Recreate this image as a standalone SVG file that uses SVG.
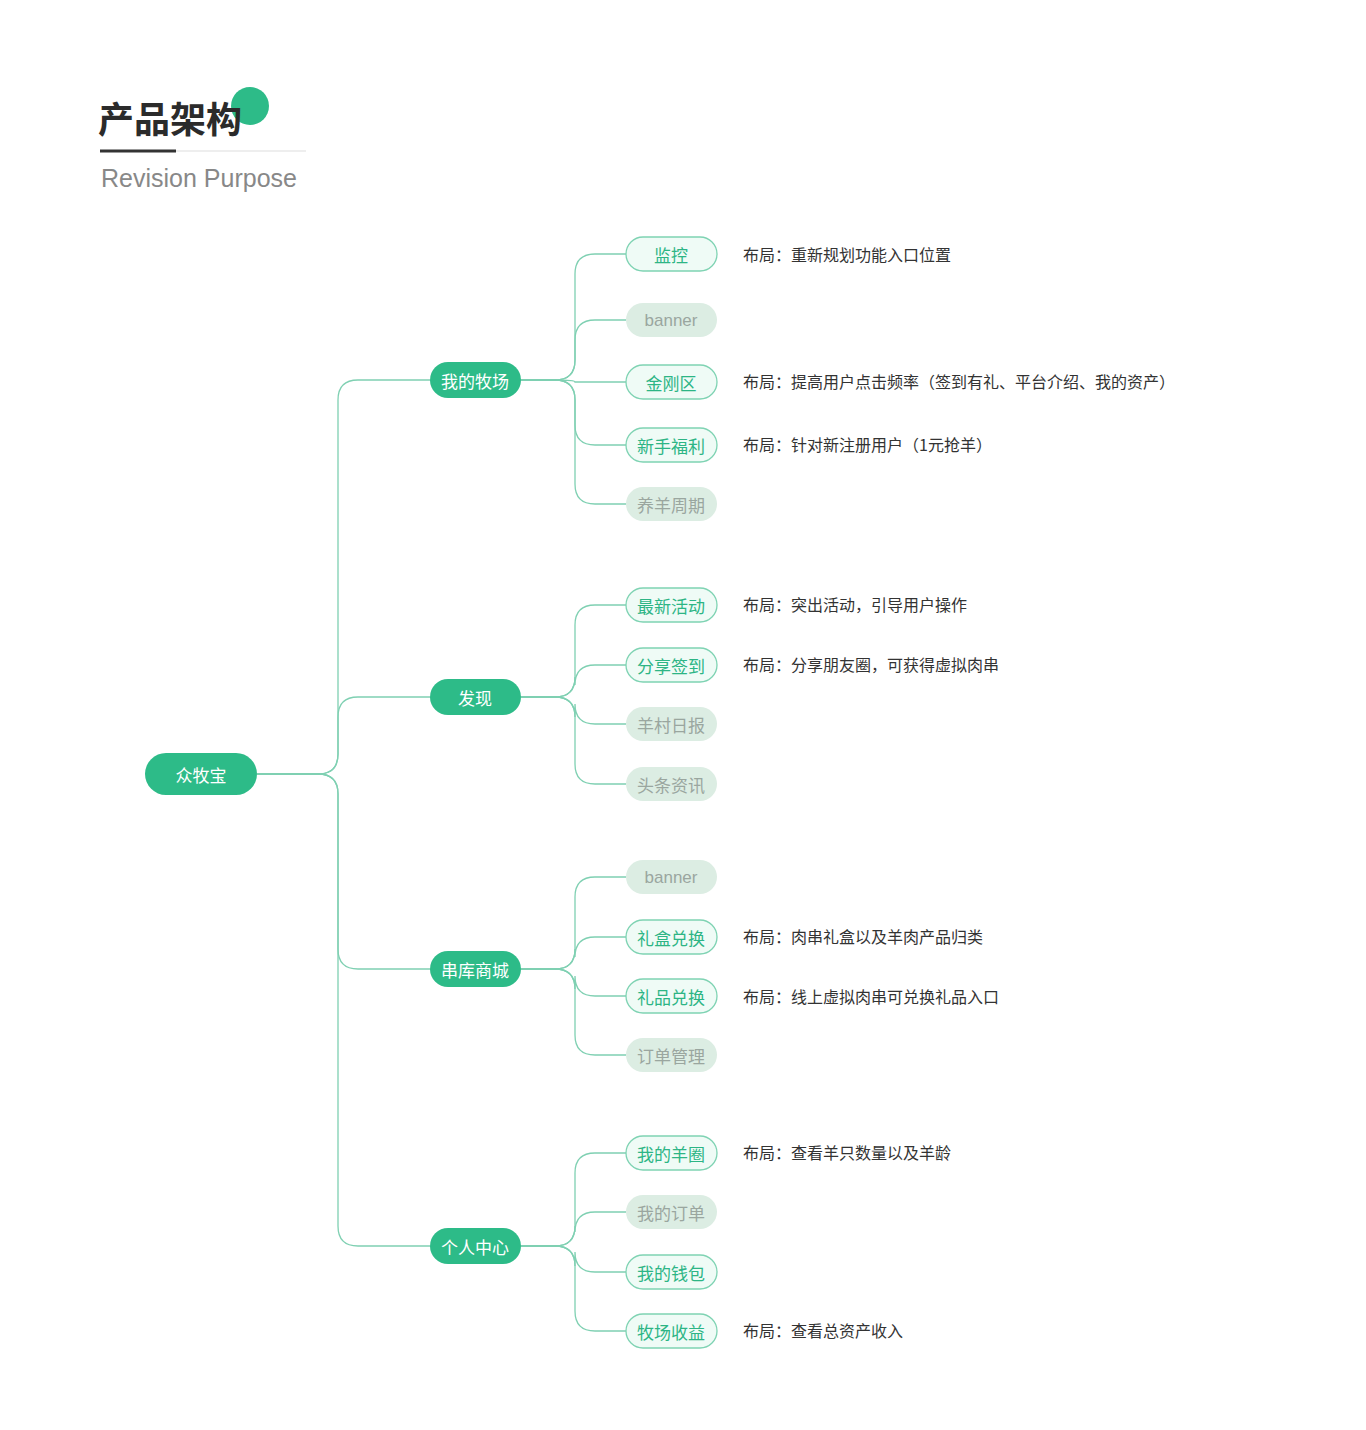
<svg xmlns="http://www.w3.org/2000/svg" width="1366" height="1430" viewBox="0 0 1366 1430">
<style>
.t{font-family:"Noto Sans CJK SC","Liberation Sans",sans-serif}
.c path{fill:none;stroke:#7fd0b2;stroke-width:1.3}
.p{fill:#2dbb88}
.pt{fill:#fff;font-size:17px;text-anchor:middle;dominant-baseline:central}
.a rect{fill:#effbf6;stroke:#7fd3b3;stroke-width:1.3}
.a text{fill:#2db585;font-size:17px;text-anchor:middle;dominant-baseline:central}
.i rect{fill:#dcede3}
.i text{fill:#9aa69f;font-size:17px;text-anchor:middle;dominant-baseline:central}
.n{fill:#333;font-size:16px;dominant-baseline:central}
</style>
<rect width="1366" height="1430" fill="#fff"/>
<g id="title">
<circle cx="250" cy="106" r="19" fill="#2dbb88"/>
<text x="98" y="133" class="t" font-size="36" font-weight="bold" fill="#2b2b2b">产品架构</text>
<line x1="100" y1="151" x2="306" y2="151" stroke="#ddd" stroke-width="1"/>
<line x1="100" y1="151" x2="176" y2="151" stroke="#333" stroke-width="3"/>
<text x="101" y="187" font-family="Liberation Sans,sans-serif" font-size="25" fill="#888">Revision Purpose</text>
</g>
<g class="c">
<path d="M257,774 H318 Q338,774 338,754 V400 Q338,380 358,380 H430"/>
<path d="M257,774 H318 Q338,774 338,754 V717 Q338,697 358,697 H430"/>
<path d="M257,774 H318 Q338,774 338,794 V949 Q338,969 358,969 H430"/>
<path d="M257,774 H318 Q338,774 338,794 V1226 Q338,1246 358,1246 H430"/>
<path d="M521,380 H555 Q575,380 575,360 V274 Q575,254 595,254 H626"/>
<path d="M521,380 H555 Q575,380 575,360 V340 Q575,320 595,320 H626"/>
<path d="M521,380 H555 Q575,380 575,382 Q575,382 595,382 H626"/>
<path d="M521,380 H555 Q575,380 575,400 V425 Q575,445 595,445 H626"/>
<path d="M521,380 H555 Q575,380 575,400 V484 Q575,504 595,504 H626"/>
<path d="M521,697 H555 Q575,697 575,677 V625 Q575,605 595,605 H626"/>
<path d="M521,697 H555 Q575,697 575,677 V685 Q575,665 595,665 H626"/>
<path d="M521,697 H555 Q575,697 575,717 V704 Q575,724 595,724 H626"/>
<path d="M521,697 H555 Q575,697 575,717 V764 Q575,784 595,784 H626"/>
<path d="M521,969 H555 Q575,969 575,949 V897 Q575,877 595,877 H626"/>
<path d="M521,969 H555 Q575,969 575,949 V957 Q575,937 595,937 H626"/>
<path d="M521,969 H555 Q575,969 575,989 V976 Q575,996 595,996 H626"/>
<path d="M521,969 H555 Q575,969 575,989 V1035 Q575,1055 595,1055 H626"/>
<path d="M521,1246 H555 Q575,1246 575,1226 V1173 Q575,1153 595,1153 H626"/>
<path d="M521,1246 H555 Q575,1246 575,1226 V1232 Q575,1212 595,1212 H626"/>
<path d="M521,1246 H555 Q575,1246 575,1266 V1252 Q575,1272 595,1272 H626"/>
<path d="M521,1246 H555 Q575,1246 575,1266 V1311 Q575,1331 595,1331 H626"/>
</g>
<g id="root" class="t"><rect class="p" x="145" y="753" width="112" height="42" rx="21"/><text class="pt" x="201" y="774" font-size="20">众牧宝</text></g>
<g id="n1" class="t"><rect class="p" x="430" y="362" width="91" height="36" rx="18"/><text class="pt" x="475" y="380">我的牧场</text></g>
<g id="n2" class="t"><rect class="p" x="430" y="679" width="91" height="36" rx="18"/><text class="pt" x="475" y="697">发现</text></g>
<g id="n3" class="t"><rect class="p" x="430" y="951" width="91" height="36" rx="18"/><text class="pt" x="475" y="969">串库商城</text></g>
<g id="n4" class="t"><rect class="p" x="430" y="1228" width="91" height="36" rx="18"/><text class="pt" x="475" y="1246">个人中心</text></g>
<g class="t">
<g id="l1" class="a"><rect x="626" y="237" width="91" height="34" rx="17"/><text x="671" y="254">监控</text></g>
<g id="l2" class="i"><rect x="626" y="303" width="91" height="34" rx="17"/><text x="671" y="320" font-family="Liberation Sans,sans-serif">banner</text></g>
<g id="l3" class="a"><rect x="626" y="365" width="91" height="34" rx="17"/><text x="671" y="382">金刚区</text></g>
<g id="l4" class="a"><rect x="626" y="428" width="91" height="34" rx="17"/><text x="671" y="445">新手福利</text></g>
<g id="l5" class="i"><rect x="626" y="487" width="91" height="34" rx="17"/><text x="671" y="504">养羊周期</text></g>
<g id="l6" class="a"><rect x="626" y="588" width="91" height="34" rx="17"/><text x="671" y="605">最新活动</text></g>
<g id="l7" class="a"><rect x="626" y="648" width="91" height="34" rx="17"/><text x="671" y="665">分享签到</text></g>
<g id="l8" class="i"><rect x="626" y="707" width="91" height="34" rx="17"/><text x="671" y="724">羊村日报</text></g>
<g id="l9" class="i"><rect x="626" y="767" width="91" height="34" rx="17"/><text x="671" y="784">头条资讯</text></g>
<g id="l10" class="i"><rect x="626" y="860" width="91" height="34" rx="17"/><text x="671" y="877" font-family="Liberation Sans,sans-serif">banner</text></g>
<g id="l11" class="a"><rect x="626" y="920" width="91" height="34" rx="17"/><text x="671" y="937">礼盒兑换</text></g>
<g id="l12" class="a"><rect x="626" y="979" width="91" height="34" rx="17"/><text x="671" y="996">礼品兑换</text></g>
<g id="l13" class="i"><rect x="626" y="1038" width="91" height="34" rx="17"/><text x="671" y="1055">订单管理</text></g>
<g id="l14" class="a"><rect x="626" y="1136" width="91" height="34" rx="17"/><text x="671" y="1153">我的羊圈</text></g>
<g id="l15" class="i"><rect x="626" y="1195" width="91" height="34" rx="17"/><text x="671" y="1212">我的订单</text></g>
<g id="l16" class="a"><rect x="626" y="1255" width="91" height="34" rx="17"/><text x="671" y="1272">我的钱包</text></g>
<g id="l17" class="a"><rect x="626" y="1314" width="91" height="34" rx="17"/><text x="671" y="1331">牧场收益</text></g>
</g>
<g id="notes" class="t">
<text class="n" x="743" y="254">布局：重新规划功能入口位置</text>
<text class="n" x="743" y="381">布局：提高用户点击频率（签到有礼、平台介绍、我的资产）</text>
<text class="n" x="743" y="444">布局：针对新注册用户（1元抢羊）</text>
<text class="n" x="743" y="604">布局：突出活动，引导用户操作</text>
<text class="n" x="743" y="664">布局：分享朋友圈，可获得虚拟肉串</text>
<text class="n" x="743" y="936">布局：肉串礼盒以及羊肉产品归类</text>
<text class="n" x="743" y="996">布局：线上虚拟肉串可兑换礼品入口</text>
<text class="n" x="743" y="1152">布局：查看羊只数量以及羊龄</text>
<text class="n" x="743" y="1330">布局：查看总资产收入</text>
</g>
</svg>
